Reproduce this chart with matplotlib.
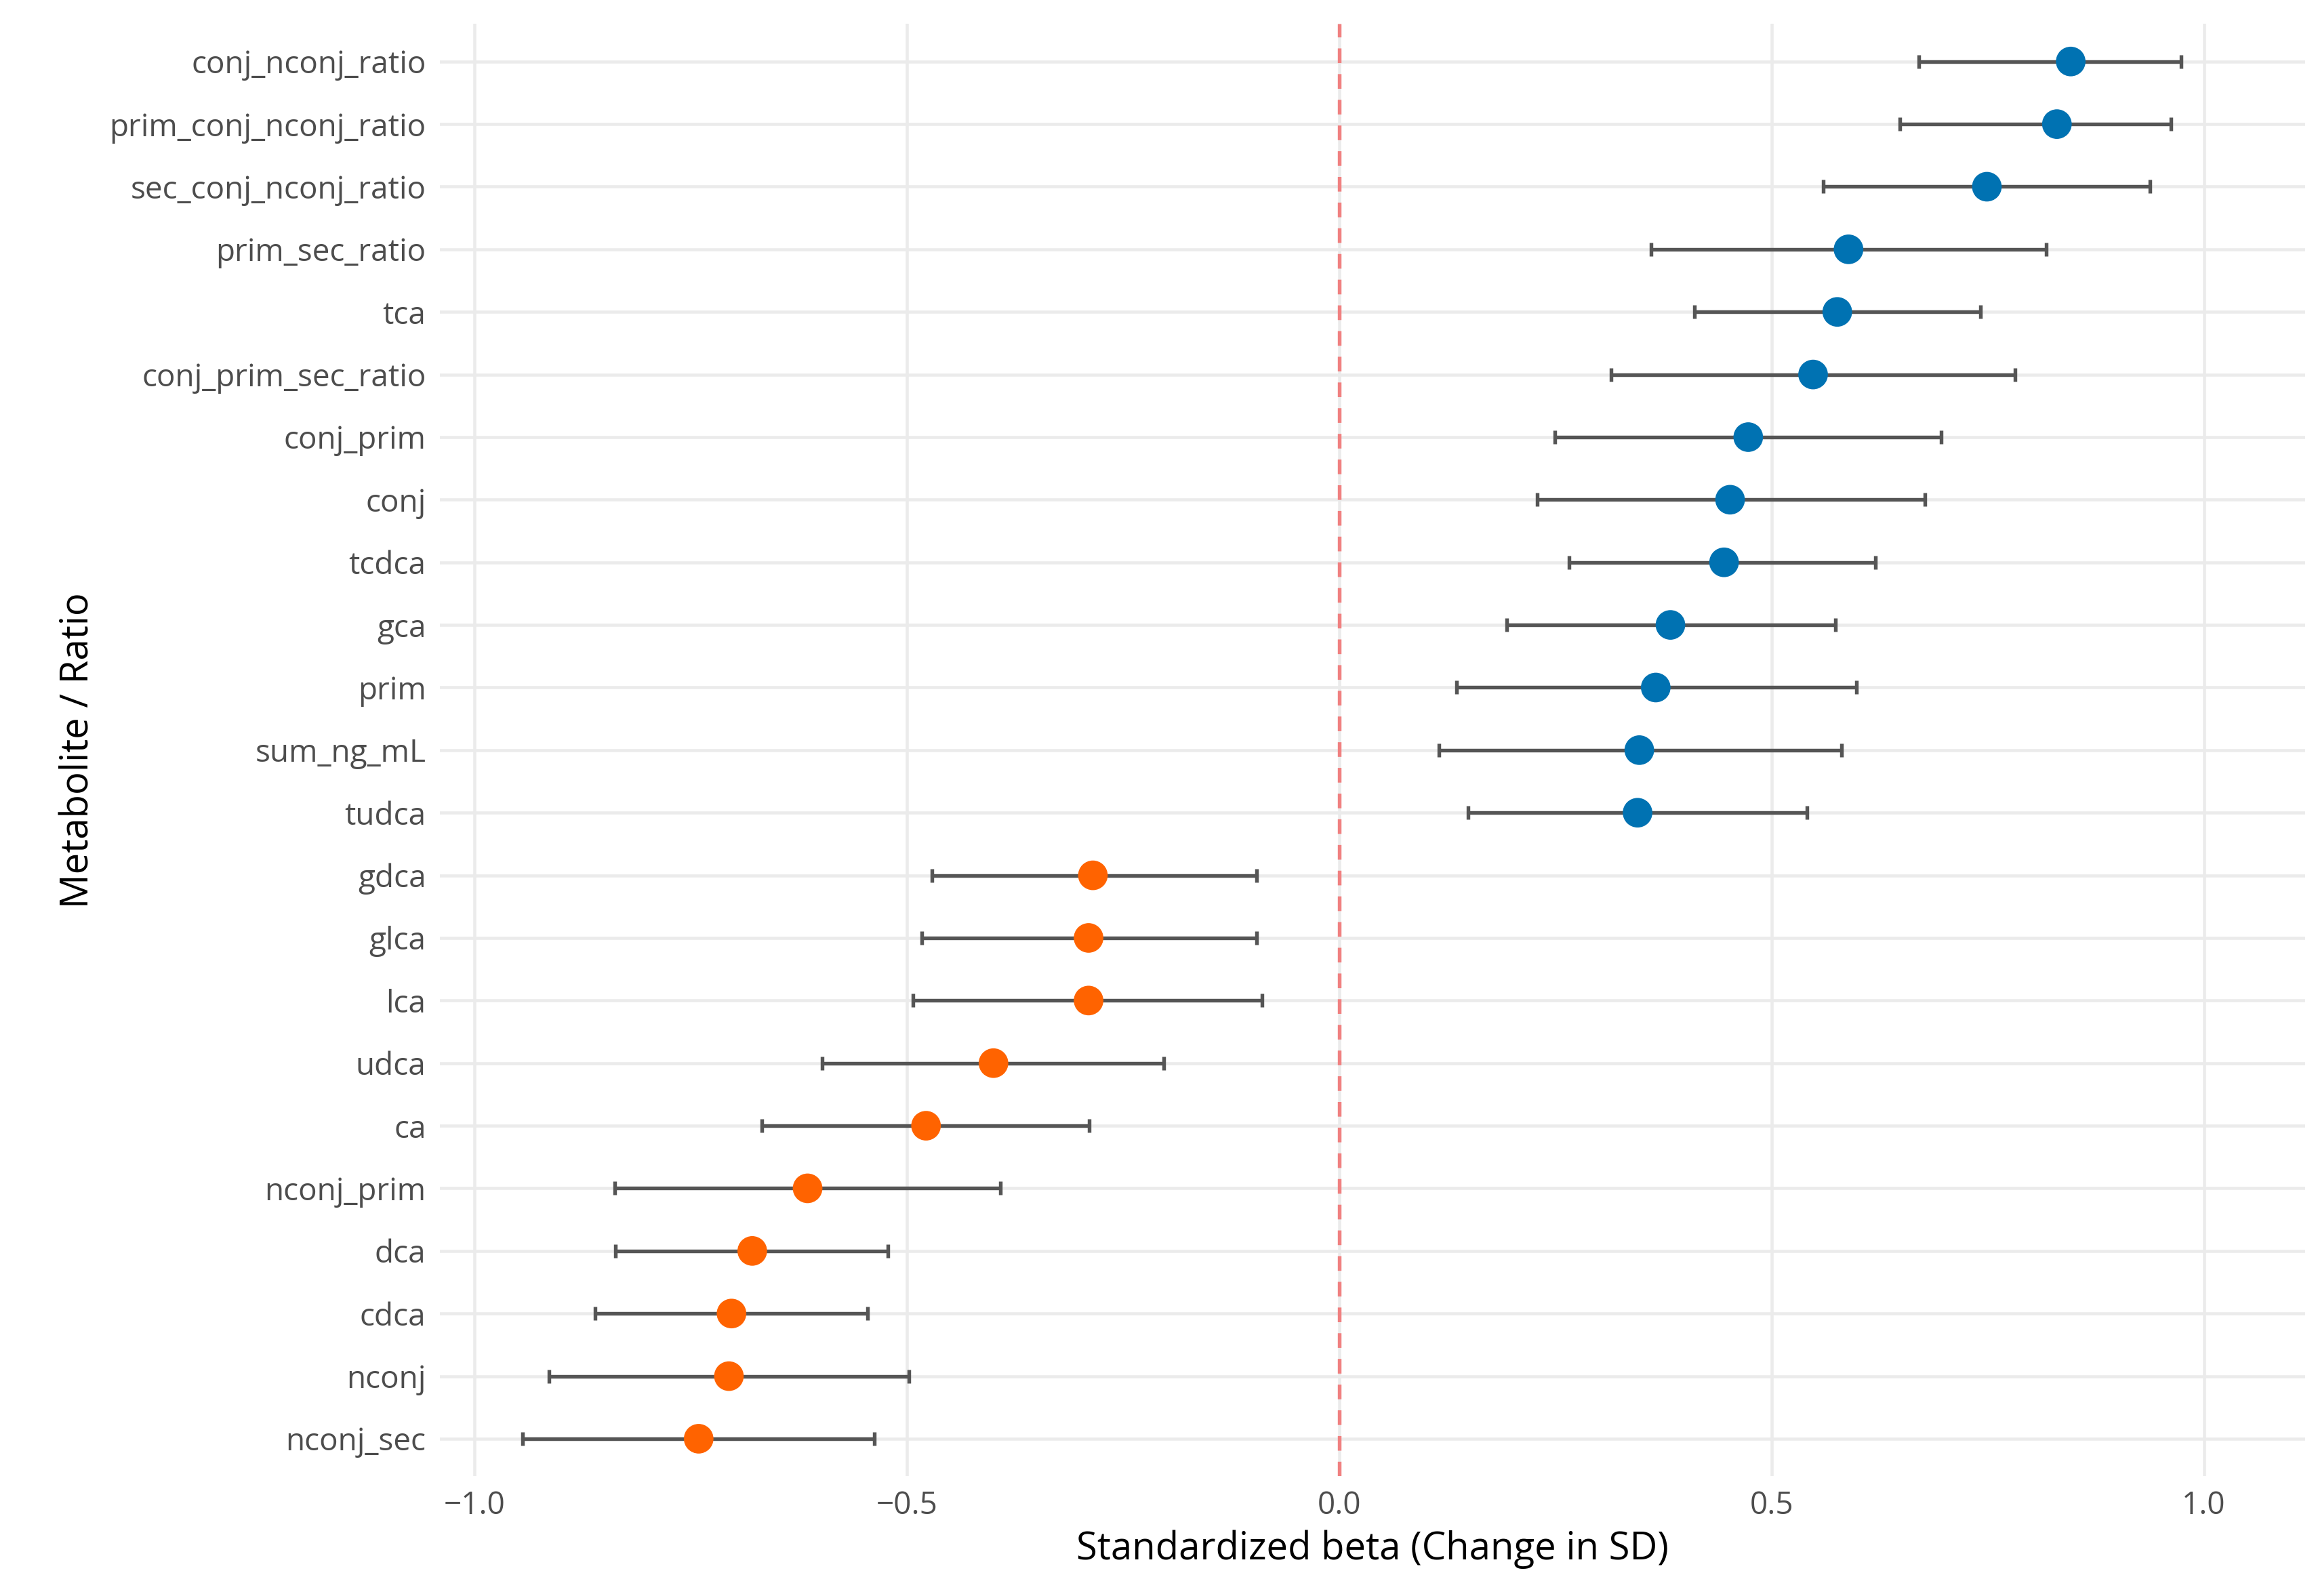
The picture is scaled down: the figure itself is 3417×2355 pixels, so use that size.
import numpy as np
import matplotlib.pyplot as plt

names = ["conj_nconj_ratio", "prim_conj_nconj_ratio", "sec_conj_nconj_ratio", "prim_sec_ratio",
         "tca", "conj_prim_sec_ratio", "conj_prim", "conj", "tcdca", "gca", "prim", "sum_ng_mL",
         "tudca", "gdca", "glca", "lca", "udca", "ca", "nconj_prim", "dca", "cdca", "nconj", "nconj_sec"]
beta = [0.846, 0.830, 0.749, 0.589, 0.576, 0.548, 0.473, 0.452, 0.445, 0.383, 0.366, 0.347,
        0.345, -0.285, -0.290, -0.290, -0.400, -0.478, -0.615, -0.679, -0.703, -0.706, -0.741]
low = [0.670, 0.648, 0.560, 0.361, 0.411, 0.314, 0.249, 0.229, 0.266, 0.194, 0.136, 0.115,
       0.149, -0.471, -0.483, -0.493, -0.598, -0.668, -0.838, -0.837, -0.861, -0.914, -0.945]
high = [0.974, 0.962, 0.938, 0.818, 0.742, 0.782, 0.696, 0.677, 0.620, 0.574, 0.598, 0.581,
        0.541, -0.096, -0.096, -0.089, -0.203, -0.289, -0.392, -0.522, -0.546, -0.498, -0.538]

plt.rcParams['font.family'] = ['Open Sans', 'DejaVu Sans']
fig, ax = plt.subplots(figsize=(11.393, 7.85), dpi=300)
y = np.arange(len(names))[::-1]
beta = np.array(beta)
colors = np.where(beta > 0, '#0072B2', '#FF6300')

ax.errorbar(beta, y, xerr=[beta - np.array(low), np.array(high) - beta], fmt='none',
            ecolor='#555555', elinewidth=1.3, capsize=2.5, capthick=1.3, zorder=2)
ax.scatter(beta, y, s=110, c=colors, zorder=3, edgecolors='none')
ax.axvline(0, color='#F08080', linestyle=(0, (4, 3)), linewidth=1.3, zorder=1)

ax.set_yticks(y)
ax.set_yticklabels(names)
ax.set_xticks([-1.0, -0.5, 0.0, 0.5, 1.0])
ax.set_xticklabels(['\u22121.0', '\u22120.5', '0.0', '0.5', '1.0'])
ax.set_xlim(-1.04, 1.117)
ax.set_ylim(-0.6, len(names) - 0.4)
ax.grid(True, color='#EBEBEB', linewidth=1.1)
ax.set_axisbelow(True)
for s in ax.spines.values():
    s.set_visible(False)
ax.tick_params(length=0, labelsize=11, colors='#4D4D4D', pad=5)
ax.set_xlabel('Standardized beta (Change in SD)', fontsize=13.5, labelpad=3)
ax.set_ylabel('Metabolite / Ratio', fontsize=13.5)
plt.subplots_adjust(left=0.19, right=0.995, top=0.985, bottom=0.075)
plt.savefig('out.png')
